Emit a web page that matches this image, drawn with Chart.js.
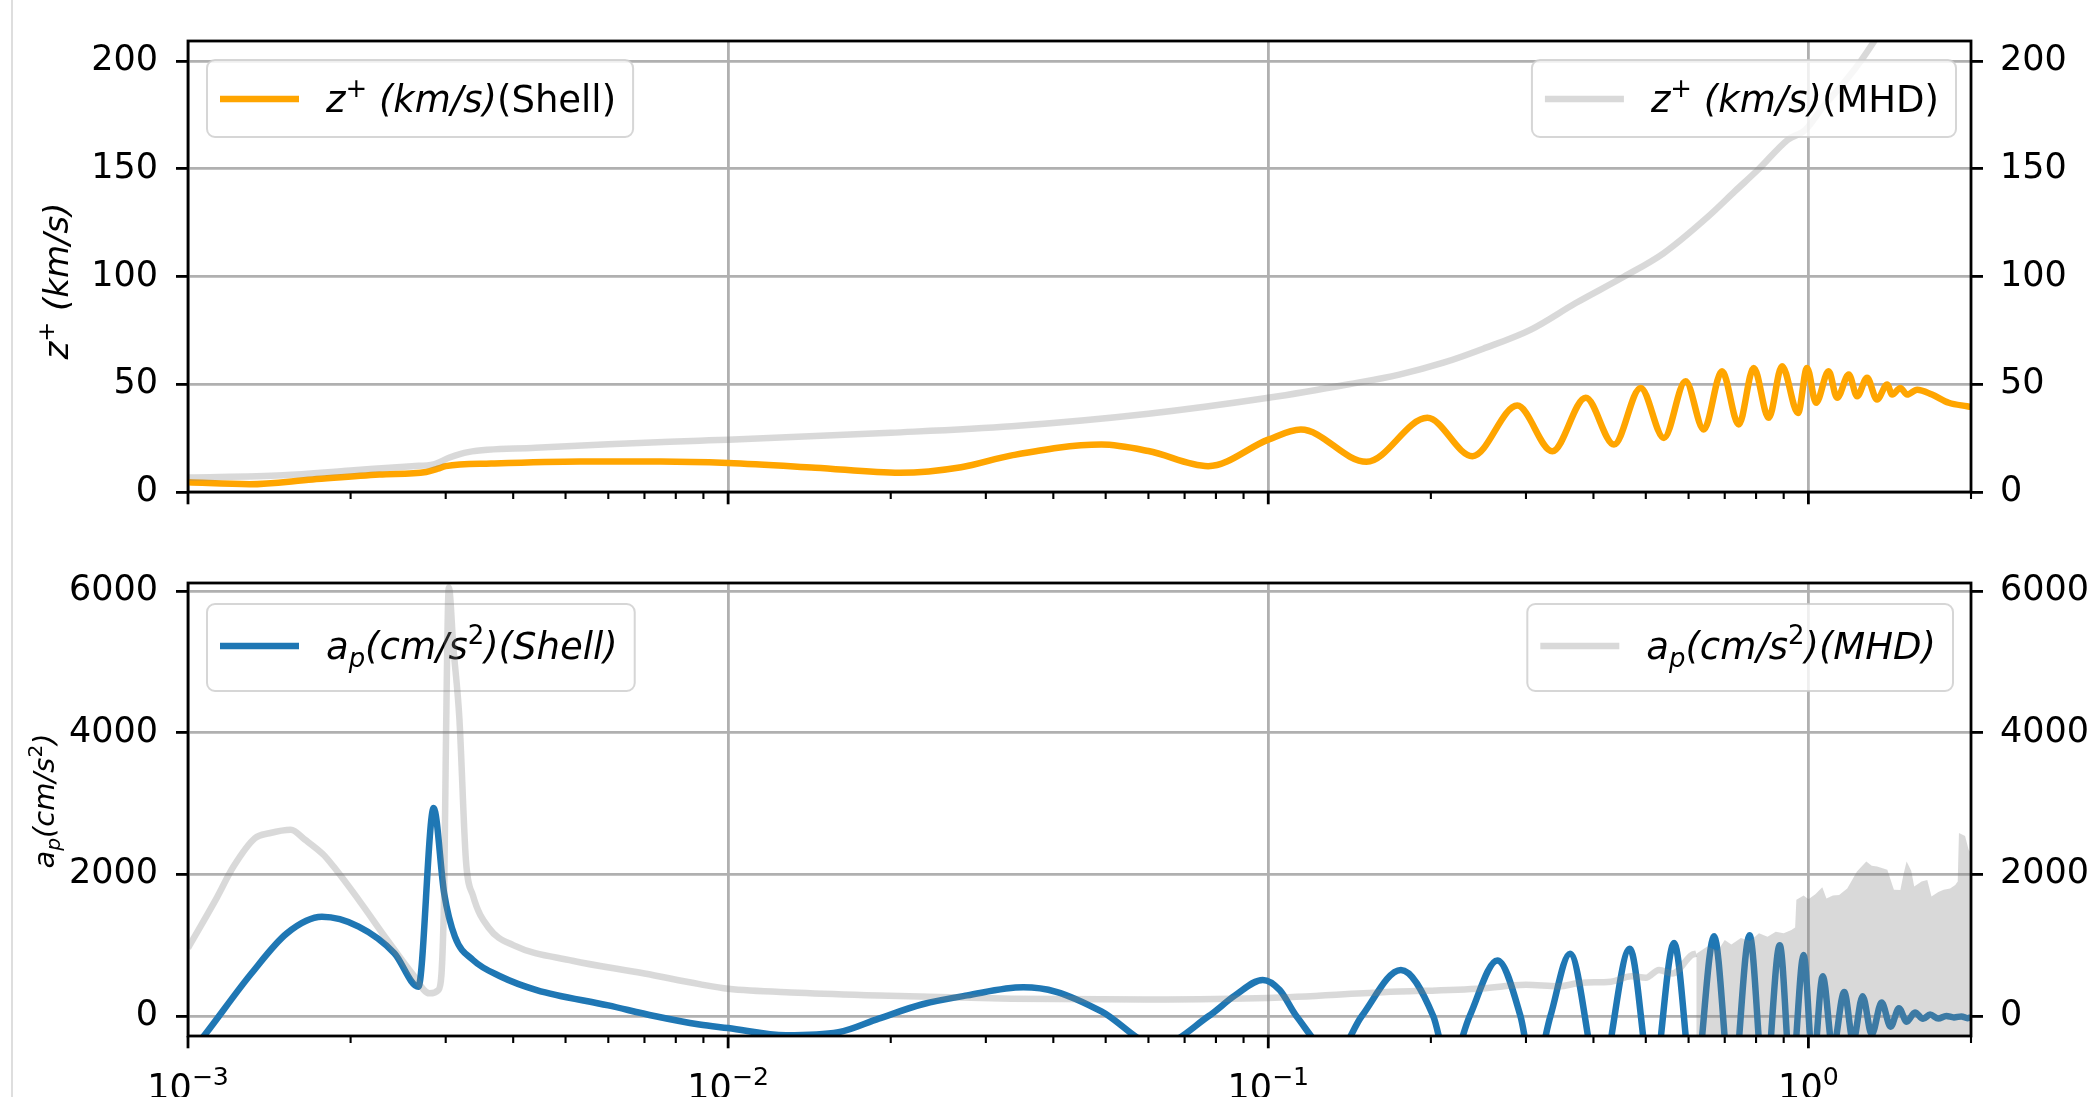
<!DOCTYPE html>
<html>
<head>
<meta charset="utf-8">
<script src="https://cdn.jsdelivr.net/npm/chart.js@4.4.0/dist/chart.umd.min.js"></script>
<style>
  html, body { margin: 0; padding: 0; background: #fff; overflow: hidden; width: 2093px; height: 1097px; }
  #edge { position: absolute; left: 11px; top: 0; width: 2px; height: 1097px; background: #dedede; }
  #top { position: absolute; left: 0; top: 0; }
  #bottom { position: absolute; left: 0; top: 540px; }
</style>
</head>
<body>
<div id="edge"></div>
<canvas id="top" width="2093" height="540"></canvas>
<canvas id="bottom" width="2093" height="570"></canvas>
<script>
// shared log x axis
var xRange = [0.001, 2];
var xDecades = [0.001, 0.01, 0.1, 1];
var xTickLabels = [['10', '\u22123'], ['10', '\u22122'], ['10', '\u22121'], ['10', '0']];

// y axes
var zRange = [0, 209.3];
var zTicks = [0, 50, 100, 150, 200];
var zTickLabels = ['0', '50', '100', '150', '200'];
var apRange = [-282, 6113];
var apTicks = [0, 2000, 4000, 6000];
var apTickLabels = ['0', '2000', '4000', '6000'];

// z+ (km/s), shell model
var zShellX = [0.001, 0.0013, 0.0017, 0.00226, 0.00276, 0.0029, 0.003, 0.00364, 0.00532, 0.0075,
  0.01, 0.0145, 0.0208, 0.027, 0.0335, 0.0491, 0.06, 0.0774, 0.1, 0.1149,
  0.152, 0.197, 0.2388, 0.2891, 0.3357, 0.387, 0.4366, 0.4891, 0.5401, 0.5924,
  0.6401, 0.6919, 0.743, 0.792, 0.8444, 0.8936, 0.9568, 0.9942, 1.033, 1.09,
  1.13, 1.188, 1.231, 1.284, 1.34, 1.399, 1.429, 1.48, 1.523, 1.59,
  1.694, 1.819, 1.967, 2.0];
var zShellY = [4.5, 3.6, 5.8, 8.1, 9.3, 10.8, 12.0, 13.2, 14.2, 14.2,
  13.5, 11.3, 8.9, 11.5, 17.0, 22.0, 19.0, 12.0, 24.3, 29.0,
  14.0, 34.4, 16.6, 40.1, 18.9, 43.7, 22.0, 48.3, 25.1, 51.4,
  29.0, 56.0, 31.3, 57.6, 34.4, 58.4, 36.7, 57.6, 41.4, 56.0,
  43.7, 54.5, 44.4, 53.0, 42.9, 49.9, 45.2, 48.3, 45.2, 47.5,
  45.2, 41.4, 39.8, 39.5];

// z+ (km/s), MHD
var zMhdX = [0.001, 0.0015, 0.002, 0.0026, 0.00285, 0.00305, 0.0033, 0.0044, 0.006, 0.00885,
  0.01, 0.02, 0.0335, 0.06, 0.1, 0.141, 0.1748, 0.211, 0.25, 0.307,
  0.371, 0.456, 0.54, 0.6527, 0.7306, 0.81, 0.9161, 0.9874, 1.065, 1.148,
  1.25, 1.33, 1.45, 1.7, 2.0];
var zMhdY = [6.7, 7.8, 10.0, 12.0, 12.8, 16.0, 18.5, 20.5, 22.2, 23.8,
  24.3, 27.5, 30.5, 36.3, 43.7, 50.0, 54.5, 60.0, 66.5, 75.5,
  87.7, 100.0, 110.9, 127.9, 139.5, 150.0, 163.5, 168.1, 178.9, 188.2,
  200.0, 210.0, 225, 255, 290];

// a_p (cm/s^2), shell model
var apShellX = [0.001, 0.00107, 0.00131, 0.001526, 0.00177, 0.00207, 0.00241, 0.00267, 0.00285, 0.00298,
  0.00312, 0.00337, 0.0038, 0.00442, 0.006, 0.0073, 0.00885, 0.01, 0.0128, 0.016,
  0.019, 0.0229, 0.0277, 0.0352, 0.0405, 0.0491, 0.0625, 0.0776, 0.0868, 0.0977,
  0.105, 0.1127, 0.133, 0.149, 0.176, 0.202, 0.216, 0.236, 0.2656, 0.293,
  0.31, 0.333, 0.362, 0.411, 0.467, 0.514, 0.564, 0.614, 0.669, 0.722,
  0.778, 0.83, 0.885, 0.93, 0.98, 1.02, 1.063, 1.11, 1.165, 1.21,
  1.26, 1.31, 1.366, 1.42, 1.471, 1.52, 1.575, 1.63, 1.68, 1.74,
  1.80, 1.86, 1.92, 1.97, 2.0];
var apShellY = [-560, -283, 600, 1170, 1400, 1262, 886, 414, 2935, 1734,
  1121, 791, 555, 367, 150, 0, -120, -170, -272, -230,
  -37, 166, 291, 405, 342, 65, -420, 0, 291, 510,
  367, 0, -560, 0, 650, 0, -720, 0, 785, 0,
  -830, 0, 880, -910, 950, -990, 1030, -1080, 1125, -1130,
  1140, -1080, 1000, -930, 860, -700, 560, -470, 340, -350,
  280, -260, 190, -150, 110, -80, 50, -40, 20, -35,
  0, -20, -5, -30, -20];

// a_p (cm/s^2), MHD, smooth part
var apMhdX = [0.001, 0.001125, 0.001214, 0.00133, 0.001414, 0.00155, 0.001646, 0.00178, 0.00186, 0.00207,
  0.00234, 0.0026, 0.0028, 0.00291, 0.00298, 0.003, 0.00304, 0.0031, 0.00318, 0.00327,
  0.00337, 0.0036, 0.004, 0.00515, 0.007, 0.00885, 0.01, 0.0135, 0.019, 0.0335,
  0.06, 0.1, 0.163, 0.249, 0.3, 0.345, 0.38, 0.431, 0.47, 0.5,
  0.529, 0.56, 0.6083, 0.62];
var apMhdY = [960, 1640, 2110, 2510, 2580, 2630, 2490, 2280, 2110, 1640,
  1070, 600, 320, 370, 1730, 3600, 6050, 5200, 4200, 2200,
  1700, 1250, 1000, 780, 600, 450, 385, 330, 290, 245,
  235, 255, 335, 390, 440, 420, 470, 485, 560, 540,
  650, 600, 862, 880];

// a_p (cm/s^2), MHD, upper edge of the noisy part
var apMhdBandX = [0.62, 0.65, 0.68, 0.7, 0.72, 0.75, 0.78, 0.81, 0.84, 0.87,
  0.9, 0.93, 0.945, 0.95, 0.98, 1.0, 1.03, 1.061, 1.08, 1.11,
  1.14, 1.18, 1.23, 1.28, 1.31, 1.34, 1.40, 1.43, 1.44, 1.48,
  1.50, 1.52, 1.55, 1.57, 1.62, 1.66, 1.69, 1.74, 1.78, 1.83,
  1.87, 1.89, 1.90, 1.95, 1.98, 2.0];
var apMhdBandY = [880, 980, 920, 1074, 1010, 1100, 1060, 1170, 1120, 1190,
  1170, 1215, 1250, 1640, 1700, 1650, 1720, 1819, 1660, 1700,
  1710, 1800, 2040, 2180, 2120, 2110, 2064, 1850, 1781, 1780,
  2000, 2180, 2050, 1828, 1900, 1922, 1686, 1750, 1781, 1800,
  1850, 1900, 2582, 2540, 2346, 2300];

var GREY = 'rgba(128,128,128,0.3)';
var GRID = '#b0b0b0';
var FONT = 'DejaVu Sans';
var FS = 35;      // tick labels
var LFS = 37;     // legend text

function pts(xs, ys) {
    return xs.map(function (x, i) { return { x: x, y: ys[i] }; });
}

function runFont(style, size) {
    var s = size;
    if (style.indexOf('sup') >= 0 || style.indexOf('sub') >= 0) s = size * 0.7;
    return (style.indexOf('i') === 0 ? 'italic ' : '') + s + 'px "' + FONT + '"';
}

function runsWidth(ctx, runs, size) {
    var w = 0;
    runs.forEach(function (r) {
        ctx.font = runFont(r[1], size);
        w += ctx.measureText(r[0]).width;
    });
    return w;
}

function drawRuns(ctx, runs, x, y, size) {
    runs.forEach(function (r) {
        var dy = 0;
        if (r[1].indexOf('sup') >= 0) dy = -size * 0.4;
        if (r[1].indexOf('sub') >= 0) dy = size * 0.22;
        ctx.font = runFont(r[1], size);
        ctx.fillText(r[0], x, y + dy);
        x += ctx.measureText(r[0]).width;
    });
}

function drawLegend(chart, L) {
    if (!L) return;
    var ctx = chart.ctx, a = chart.chartArea;
    ctx.save();
    var tw = runsWidth(ctx, L.text, LFS);
    var w = 13 + 79 + 27 + tw + 17;
    var x0 = L.side === 'left' ? a.left + L.inset : a.right - L.inset - w;
    var y0 = a.top + L.top;
    var r = 8;
    ctx.beginPath();
    ctx.moveTo(x0 + r, y0);
    ctx.arcTo(x0 + w, y0, x0 + w, y0 + L.h, r);
    ctx.arcTo(x0 + w, y0 + L.h, x0, y0 + L.h, r);
    ctx.arcTo(x0, y0 + L.h, x0, y0, r);
    ctx.arcTo(x0, y0, x0 + w, y0, r);
    ctx.closePath();
    ctx.fillStyle = 'rgba(255,255,255,0.8)';
    ctx.fill();
    ctx.strokeStyle = 'rgba(204,204,204,0.8)';
    ctx.lineWidth = 2;
    ctx.stroke();
    ctx.beginPath();
    ctx.moveTo(x0 + 13, y0 + L.hy);
    ctx.lineTo(x0 + 13 + 79, y0 + L.hy);
    ctx.strokeStyle = L.color;
    ctx.lineWidth = 6.5;
    ctx.stroke();
    ctx.fillStyle = '#000';
    ctx.textBaseline = 'alphabetic';
    ctx.textAlign = 'left';
    drawRuns(ctx, L.text, x0 + 13 + 79 + 27, y0 + L.base, LFS);
    ctx.restore();
}

function drawFrame(chart, opts) {
    var ctx = chart.ctx, a = chart.chartArea, xs = chart.scales.x;
    ctx.save();
    ctx.strokeStyle = '#000';
    ctx.lineWidth = 2.8;
    ctx.strokeRect(a.left, a.top, a.right - a.left, a.bottom - a.top);
    xDecades.forEach(function (d) {
        for (var k = 1; k <= 9; k++) {
            var v = d * k;
            if (v > xRange[1] * 1.0001) break;
            var px = xs.getPixelForValue(v);
            ctx.lineWidth = k === 1 ? 2.8 : 2.1;
            ctx.beginPath();
            ctx.moveTo(px, a.bottom);
            ctx.lineTo(px, a.bottom + (k === 1 ? 12.3 : 7));
            ctx.stroke();
        }
    });
    if (opts.xLabels) {
        ctx.fillStyle = '#000';
        ctx.textBaseline = 'alphabetic';
        ctx.textAlign = 'left';
        xDecades.forEach(function (d, i) {
            var lab = xTickLabels[i];
            ctx.font = FS + 'px "' + FONT + '"';
            var w1 = ctx.measureText(lab[0]).width;
            ctx.font = (FS * 0.72) + 'px "' + FONT + '"';
            var w2 = ctx.measureText(lab[1]).width;
            var x0 = xs.getPixelForValue(d) - (w1 + w2) / 2;
            var by = a.bottom + 63;
            ctx.font = FS + 'px "' + FONT + '"';
            ctx.fillText(lab[0], x0, by);
            ctx.font = (FS * 0.72) + 'px "' + FONT + '"';
            ctx.fillText(lab[1], x0 + w1, by - 14);
        });
    }
    if (opts.ylabel) {
        var L = opts.ylabel;
        ctx.translate(L.x, L.y);
        ctx.rotate(-Math.PI / 2);
        ctx.fillStyle = '#000';
        ctx.textBaseline = 'alphabetic';
        ctx.textAlign = 'left';
        var w = runsWidth(ctx, L.text, L.size);
        drawRuns(ctx, L.text, -w / 2, 0, L.size);
    }
    ctx.restore();
}

// matplotlib-like decorations: legends (shell one under the twin-axis lines), frame, ticks, labels
var mplPlugin = {
    id: 'mpl',
    beforeDatasetsDraw: function (chart) { chart.$leftDone = false; },
    beforeDatasetDraw: function (chart, args, opts) {
        var ds = chart.data.datasets[args.index];
        if (ds.twin && !chart.$leftDone) {
            drawLegend(chart, opts.left);
            chart.$leftDone = true;
        }
    },
    afterDatasetsDraw: function (chart, args, opts) {
        drawLegend(chart, opts.right);
        drawFrame(chart, opts);
    }
};

function yScale(pos, range, ticks, labels) {
    return {
        position: pos,
        min: range[0],
        max: range[1],
        afterBuildTicks: function (s) { s.ticks = ticks.map(function (v) { return { value: v }; }); },
        afterFit: function (s) { s.width = pos === 'left' ? 188 : 122; },
        ticks: {
            font: { family: FONT, size: FS },
            color: '#000',
            padding: pos === 'left' ? 18 : 17,
            autoSkip: false,
            callback: function (v, i) { return labels[i]; }
        },
        grid: {
            color: GRID,
            lineWidth: 2.8,
            drawOnChartArea: pos === 'left',
            tickLength: 12,
            tickColor: '#000',
            tickWidth: 2.8
        },
        border: { display: false }
    };
}

function makeChart(id, cfg) {
    var ctx = document.getElementById(id).getContext('2d');
    return new Chart(ctx, {
        type: 'line',
        data: { datasets: cfg.datasets },
        options: {
            responsive: false,
            animation: false,
            events: [],
            layout: { padding: { top: cfg.padTop, left: 0, right: 0, bottom: 0 } },
            elements: {
                point: { radius: 0 },
                line: { borderJoinStyle: 'round', capBezierPoints: false }
            },
            plugins: {
                legend: { display: false },
                tooltip: { enabled: false },
                mpl: cfg.mpl
            },
            scales: {
                x: {
                    type: 'logarithmic',
                    min: xRange[0],
                    max: xRange[1],
                    afterBuildTicks: function (s) { s.ticks = xDecades.map(function (v) { return { value: v }; }); },
                    afterFit: function (s) { s.height = cfg.xHeight; },
                    ticks: { display: false },
                    grid: { color: GRID, lineWidth: 2.8, drawTicks: false },
                    border: { display: false }
                },
                y: yScale('left', cfg.yRange, cfg.yTicks, cfg.yLabels),
                y2: yScale('right', cfg.yRange, cfg.yTicks, cfg.yLabels)
            }
        },
        plugins: [mplPlugin]
    });
}

var zText = [['z', 'i'], ['+', 'sup'], [' (km/s)', 'i']];
var apText = [['a', 'i'], ['p', 'isub'], ['(cm/s', 'i'], ['2', 'sup'], [')', 'i']];

window.topChart = makeChart('top', {
    padTop: 41,
    xHeight: 48,
    yRange: zRange,
    yTicks: zTicks,
    yLabels: zTickLabels,
    datasets: [{
        label: 'z+ (km/s)(MHD)',
        twin: true,
        data: pts(zMhdX, zMhdY),
        yAxisID: 'y2',
        borderColor: GREY,
        borderWidth: 6.5,
        cubicInterpolationMode: 'monotone',
        clip: 0
    }, {
        label: 'z+ (km/s)(Shell)',
        data: pts(zShellX, zShellY),
        yAxisID: 'y',
        borderColor: 'orange',
        borderWidth: 6.5,
        cubicInterpolationMode: 'monotone',
        clip: 0
    }],
    mpl: {
        left: { side: 'left', inset: 19, top: 19, h: 77, hy: 39, base: 52, color: 'orange',
            text: zText.concat([['(Shell)', 'r']]) },
        right: { side: 'right', inset: 15, top: 19, h: 77, hy: 39, base: 52, color: GREY,
            text: zText.concat([['(MHD)', 'r']]) },
        ylabel: { x: 68, y: 281, size: 34, text: zText }
    }
});

window.bottomChart = makeChart('bottom', {
    padTop: 43,
    xHeight: 74,
    yRange: apRange,
    yTicks: apTicks,
    yLabels: apTickLabels,
    datasets: [{
        label: 'a_p(cm/s2)(MHD)',
        twin: true,
        data: pts(apMhdX, apMhdY),
        yAxisID: 'y2',
        borderColor: GREY,
        borderWidth: 6.5,
        cubicInterpolationMode: 'monotone',
        clip: 0
    }, {
        label: 'a_p(cm/s2)(MHD) noisy',
        twin: true,
        data: pts(apMhdBandX, apMhdBandY),
        yAxisID: 'y2',
        borderColor: 'rgba(0,0,0,0)',
        borderWidth: 1,
        backgroundColor: GREY,
        fill: 'start',
        tension: 0,
        clip: 0
    }, {
        label: 'a_p(cm/s2)(Shell)',
        data: pts(apShellX, apShellY),
        yAxisID: 'y',
        borderColor: '#1f77b4',
        borderWidth: 6.5,
        cubicInterpolationMode: 'monotone',
        clip: 0
    }],
    mpl: {
        left: { side: 'left', inset: 19, top: 21, h: 87, hy: 42, base: 55, color: '#1f77b4',
            text: [['a', 'i'], ['p', 'isub'], ['(cm/s', 'i'], ['2', 'sup'], [')(Shell)', 'i']] },
        right: { side: 'right', inset: 18, top: 21, h: 87, hy: 42, base: 55, color: GREY,
            text: [['a', 'i'], ['p', 'isub'], ['(cm/s', 'i'], ['2', 'sup'], [')(MHD)', 'i']] },
        ylabel: { x: 54, y: 261, size: 29, text: apText },
        xLabels: true
    }
});
</script>
</body>
</html>
